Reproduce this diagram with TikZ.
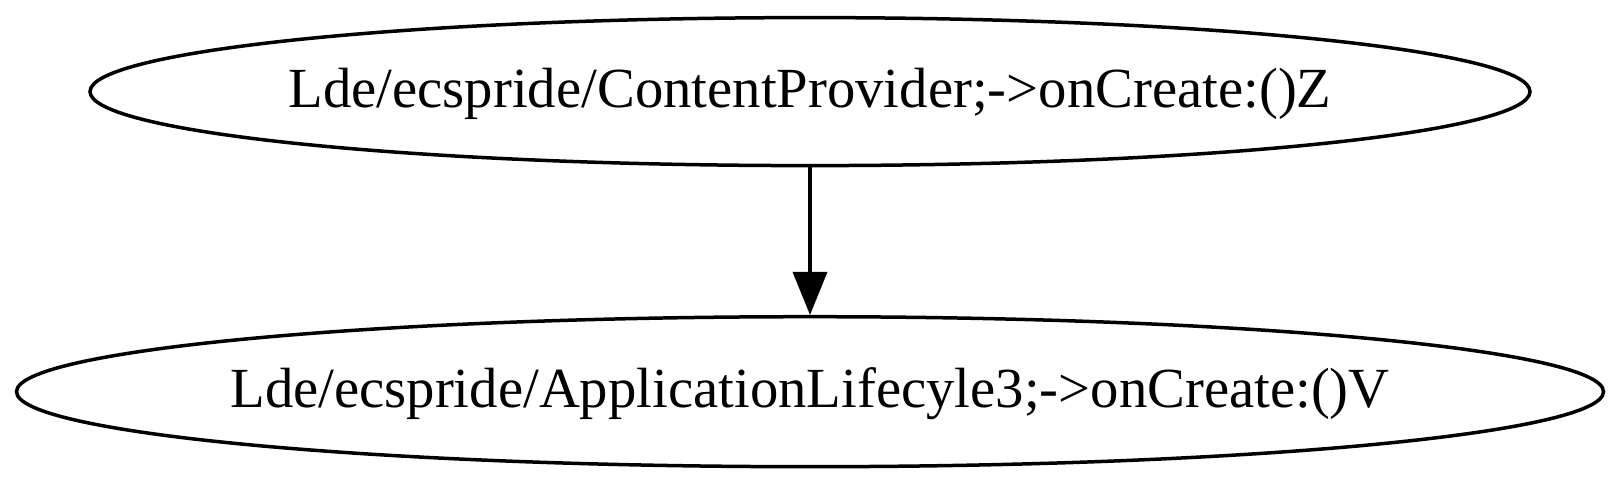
\documentclass[tikz,border=0pt]{standalone}
\usepackage{fontspec}
\setmainfont{Liberation Serif}
\usetikzlibrary{shapes.geometric,arrows.meta}
\begin{document}
\begin{tikzpicture}[x=1pt,y=-1pt,
  state/.style={draw, ellipse, line width=3.5pt, inner sep=0pt,
    font=\fontsize{56.7}{60}\selectfont, text height=45pt, text depth=14pt},
  edge/.style={line width=3.5pt, -{Triangle[width=34pt,length=43pt]}}]
\fill[white] (0,0) rectangle (1620,483);
\useasboundingbox (0,0) rectangle (1620,483);
\node[state, minimum width=1440pt, minimum height=148pt] (a) at (810,91.6) {\makebox[0pt]{Lde/ecspride/ContentProvider;->onCreate:()Z}};
\node[state, minimum width=1587pt, minimum height=150pt] (b) at (810,391.7) {\makebox[0pt]{Lde/ecspride/ApplicationLifecyle3;->onCreate:()V}};
\draw[edge] (a) -- (b);
\end{tikzpicture}
\end{document}
